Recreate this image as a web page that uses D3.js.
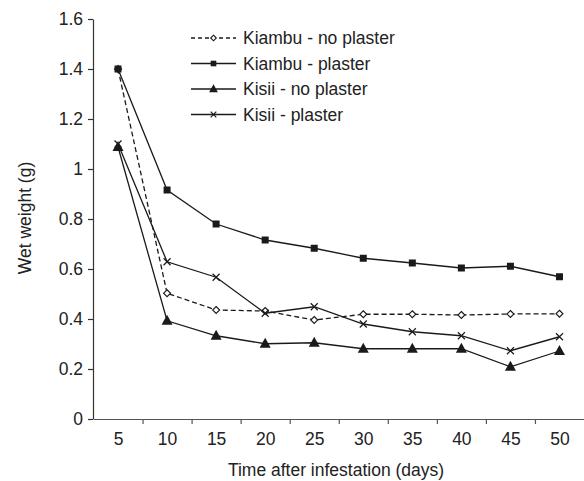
<!DOCTYPE html>
<html>
<head>
<meta charset="utf-8">
<script src="https://cdn.jsdelivr.net/npm/d3@7"></script>
<style>
  body { margin: 0; background: #fff; }
  svg { display: block; font-family: "Liberation Sans", Arial, sans-serif; }
</style>
</head>
<body>
<svg width="584" height="481"></svg>
<script>
var days = [5, 10, 15, 20, 25, 30, 35, 40, 45, 50];
var yTicks = [0, 0.2, 0.4, 0.6, 0.8, 1, 1.2, 1.4, 1.6];

// wet weight (g) per series
var kiambuNoPlaster = [1.40, 0.503, 0.436, 0.432, 0.396, 0.419, 0.419, 0.416, 0.420, 0.421];
var kiambuPlaster   = [1.40, 0.916, 0.780, 0.716, 0.683, 0.643, 0.624, 0.604, 0.611, 0.569];
var kisiiNoPlaster  = [1.088, 0.393, 0.333, 0.301, 0.305, 0.281, 0.281, 0.281, 0.209, 0.272];
var kisiiPlaster    = [1.10, 0.629, 0.567, 0.423, 0.449, 0.380, 0.349, 0.333, 0.273, 0.329];

var seriesNames = ['Kiambu - no plaster', 'Kiambu - plaster', 'Kisii - no plaster', 'Kisii - plaster'];
var seriesValues = [kiambuNoPlaster, kiambuPlaster, kisiiNoPlaster, kisiiPlaster];
var markers = ['diamond', 'square', 'triangle', 'cross'];
var ink = '#1a1a1a';
var fs = 17.5;

var svg = d3.select('svg');

var scaleX = d3.scaleLinear().domain([2.5, 52.5]).range([93.5, 584]);
var scaleY = d3.scaleLinear().domain([0, 1.6]).range([419, 19]);

// x axis: ticks between categories, labels on categories
svg.append('g')
    .attr('transform', 'translate(0,419)')
    .call(d3.axisBottom(scaleX).tickValues([7.5, 12.5, 17.5, 22.5, 27.5, 32.5, 37.5, 42.5, 47.5]).tickSize(5).tickSizeOuter(0).tickFormat(''))
    .call(function(g) { g.selectAll('line, path').attr('stroke', '#555').attr('stroke-width', 1.2); });

svg.append('g')
    .attr('transform', 'translate(0,419)')
    .call(d3.axisBottom(scaleX).tickValues(days).tickSize(0).tickPadding(14))
    .call(function(g) {
        g.select('.domain').remove();
        g.selectAll('text').attr('font-size', fs).attr('fill', '#222').attr('font-family', null);
    });

// y axis
svg.append('g')
    .attr('transform', 'translate(93,0)')
    .call(d3.axisLeft(scaleY).tickValues(yTicks).tickSize(5).tickSizeOuter(0).tickPadding(5)
        .tickFormat(function(d) { return (d === 0 || d === 1) ? String(d) : d.toFixed(1); }))
    .call(function(g) {
        g.selectAll('line, path').attr('stroke', '#333').attr('stroke-width', 1.2);
        g.selectAll('text').attr('font-size', fs).attr('fill', '#222').attr('font-family', null);
    });

// axis titles
svg.append('text')
    .attr('x', 336)
    .attr('y', 476)
    .attr('text-anchor', 'middle')
    .attr('font-size', fs)
    .attr('fill', '#222')
    .text('Time after infestation (days)');

svg.append('text')
    .attr('transform', 'translate(31,218) rotate(-90)')
    .attr('text-anchor', 'middle')
    .attr('font-size', fs)
    .attr('fill', '#222')
    .text('Wet weight (g)');

var line = d3.line()
    .x(function(d, i) { return scaleX(days[i]); })
    .y(function(d) { return scaleY(d); });

function drawMarker(g, type, x, y, k) {
    k = k || 1;
    if (type === 'square') {
        var h = 3.5 * k;
        g.append('rect').attr('x', x - h).attr('y', y - h).attr('width', 2 * h).attr('height', 2 * h).attr('fill', ink);
    } else if (type === 'triangle') {
        g.append('path').attr('d', 'M' + x + ',' + (y - 6 * k) + 'L' + (x + 5.5 * k) + ',' + (y + 4 * k) + 'L' + (x - 5.5 * k) + ',' + (y + 4 * k) + 'Z').attr('fill', ink);
    } else if (type === 'diamond') {
        var d = 3.5 * k;
        g.append('path').attr('d', 'M' + x + ',' + (y - d) + 'L' + (x + d) + ',' + y + 'L' + x + ',' + (y + d) + 'L' + (x - d) + ',' + y + 'Z')
            .attr('fill', '#fff').attr('stroke', ink).attr('stroke-width', 1.1);
    } else {
        var c = 3.5 * k;
        g.append('path').attr('d', 'M' + (x - c) + ',' + (y - c) + 'L' + (x + c) + ',' + (y + c) + 'M' + (x + c) + ',' + (y - c) + 'L' + (x - c) + ',' + (y + c))
            .attr('stroke', ink).attr('stroke-width', 1.2);
    }
}

seriesValues.forEach(function(vals, s) {
    var g = svg.append('g');
    g.append('path')
        .datum(vals)
        .attr('d', line)
        .attr('fill', 'none')
        .attr('stroke', ink)
        .attr('stroke-width', 1.3)
        .attr('stroke-dasharray', s === 0 ? '5,3' : null);
    vals.forEach(function(v, i) {
        drawMarker(g, markers[s], scaleX(days[i]), scaleY(v));
    });
});

// legend
var legend = svg.append('g');
seriesNames.forEach(function(name, s) {
    var ly = 38 + s * 25.5;
    legend.append('line')
        .attr('x1', 191).attr('x2', 236).attr('y1', ly).attr('y2', ly)
        .attr('stroke', ink).attr('stroke-width', 1.3)
        .attr('stroke-dasharray', s === 0 ? '4,3' : null);
    drawMarker(legend, markers[s], 213.5, ly, 0.8);
    legend.append('text')
        .attr('x', 243)
        .attr('y', ly + 6)
        .attr('font-size', fs)
        .attr('fill', '#222')
        .text(name);
});
</script>
</body>
</html>
